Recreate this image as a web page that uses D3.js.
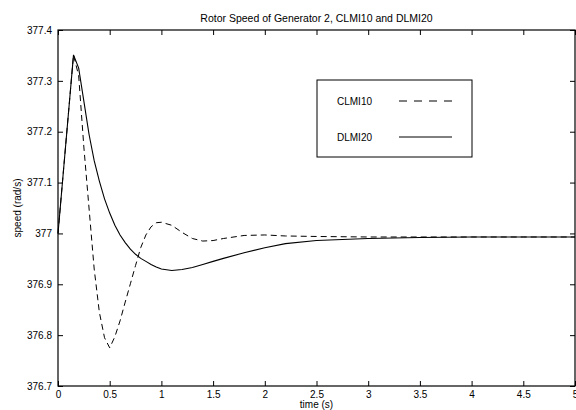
<!DOCTYPE html>
<html>
<head>
<meta charset="utf-8">
<script src="https://cdn.jsdelivr.net/npm/d3@7"></script>
<style>
  body { margin: 0; background: #fff; }
  svg { display: block; font-family: "Liberation Sans", Arial, Helvetica, sans-serif; }
</style>
</head>
<body>
<div id="chart"></div>
<script>
// data
const time = [0, 0.05, 0.1, 0.15, 0.2, 0.25, 0.3, 0.35, 0.4, 0.45, 0.5, 0.55, 0.6, 0.65, 0.7, 0.75,
  0.8, 0.85, 0.9, 0.95, 1.0, 1.1, 1.2, 1.3, 1.4, 1.5, 1.6, 1.8, 2.0, 2.2, 2.5, 3.0, 3.5, 4.0, 4.5, 5.0];
const clmi10 = [377.0, 377.117, 377.234, 377.351, 377.31, 377.17, 377.05, 376.93, 376.845, 376.795, 376.775,
  376.797, 376.828, 376.865, 376.901, 376.937, 376.972, 376.997, 377.013, 377.021, 377.022, 377.016, 377.002,
  376.99, 376.985, 376.986, 376.99, 376.996, 376.997, 376.995, 376.994, 376.993, 376.993, 376.993, 376.993, 376.993];
const dlmi20 = [377.0, 377.117, 377.234, 377.351, 377.325, 377.26, 377.195, 377.143, 377.103, 377.068, 377.04,
  377.016, 376.997, 376.982, 376.969, 376.959, 376.951, 376.945, 376.939, 376.934, 376.930, 376.927, 376.929,
  376.933, 376.939, 376.945, 376.951, 376.962, 376.972, 376.98, 376.986, 376.99, 376.992, 376.993, 376.993, 376.993];
const xTicks = [0, 0.5, 1, 1.5, 2, 2.5, 3, 3.5, 4, 4.5, 5];
const yTicks = [376.7, 376.8, 376.9, 377, 377.1, 377.2, 377.3, 377.4];
const seriesNames = ['CLMI10', 'DLMI20'];

const width = 576, height = 410;
const margin = { top: 30, right: 1, bottom: 24, left: 58 };

const svg = d3.select('#chart').append('svg')
    .attr('width', width)
    .attr('height', height);

const x = d3.scaleLinear().domain([0, 5]).range([margin.left, width - margin.right]);
const y = d3.scaleLinear().domain([376.7, 377.4]).range([height - margin.bottom, margin.top]);

const fmt = d => String(+d.toFixed(1));

// axes (MATLAB style box with inward ticks)
const tick = 5;
svg.append('g').attr('transform', `translate(0,${y(376.7)})`)
    .call(d3.axisBottom(x).tickValues(xTicks).tickFormat(fmt).tickSizeInner(-tick).tickSizeOuter(0).tickPadding(5))
    .call(g => g.select('.domain').remove());
svg.append('g').attr('transform', `translate(0,${y(377.4)})`)
    .call(d3.axisTop(x).tickValues(xTicks).tickFormat('').tickSizeInner(-tick).tickSizeOuter(0))
    .call(g => g.select('.domain').remove());
svg.append('g').attr('transform', `translate(${x(0)},0)`)
    .call(d3.axisLeft(y).tickValues(yTicks).tickFormat(fmt).tickSizeInner(-tick).tickSizeOuter(0).tickPadding(6))
    .call(g => g.select('.domain').remove());
svg.append('g').attr('transform', `translate(${x(5)},0)`)
    .call(d3.axisRight(y).tickValues(yTicks).tickFormat('').tickSizeInner(-tick).tickSizeOuter(0))
    .call(g => g.select('.domain').remove());

svg.selectAll('.tick text').attr('font-size', 10).attr('fill', '#000')
    .attr('font-family', '"Liberation Sans", Arial, sans-serif');
svg.selectAll('.tick line').attr('stroke', '#000');

svg.append('rect')
    .attr('x', x(0)).attr('y', y(377.4))
    .attr('width', x(5) - x(0)).attr('height', y(376.7) - y(377.4))
    .attr('fill', 'none').attr('stroke', '#000').attr('stroke-width', 1.2);

// lines
const line = d3.line().x((d, i) => x(time[i])).y(d => y(d));
svg.append('path').datum(clmi10)
    .attr('d', line).attr('fill', 'none').attr('stroke', '#000')
    .attr('stroke-width', 1).attr('stroke-dasharray', '6,4');
svg.append('path').datum(dlmi20)
    .attr('d', line).attr('fill', 'none').attr('stroke', '#000')
    .attr('stroke-width', 1.1);

// title + labels
svg.append('text').attr('x', (x(0) + x(5)) / 2).attr('y', 22)
    .attr('text-anchor', 'middle').attr('font-size', 10.5)
    .text('Rotor Speed of Generator 2, CLMI10 and DLMI20');
svg.append('text').attr('x', (x(0) + x(5)) / 2).attr('y', 408)
    .attr('text-anchor', 'middle').attr('font-size', 10)
    .text('time (s)');
svg.append('text')
    .attr('transform', `translate(21,${(y(376.7) + y(377.4)) / 2}) rotate(-90)`)
    .attr('text-anchor', 'middle').attr('font-size', 10)
    .text('speed (rad/s)');

// legend
const legend = svg.append('g');
legend.append('rect').attr('x', 317).attr('y', 80).attr('width', 155).attr('height', 77)
    .attr('fill', '#fff').attr('stroke', '#000').attr('stroke-width', 1);
const rowY = [101, 137];
seriesNames.forEach((name, i) => {
    legend.append('text').attr('x', 337).attr('y', rowY[i] + 3.5)
        .attr('font-size', 10).text(name);
    legend.append('line').attr('x1', 399).attr('x2', 452)
        .attr('y1', rowY[i]).attr('y2', rowY[i])
        .attr('stroke', '#000').attr('stroke-width', 1)
        .attr('stroke-dasharray', i === 0 ? '8,7' : null);
});
</script>
</body>
</html>
